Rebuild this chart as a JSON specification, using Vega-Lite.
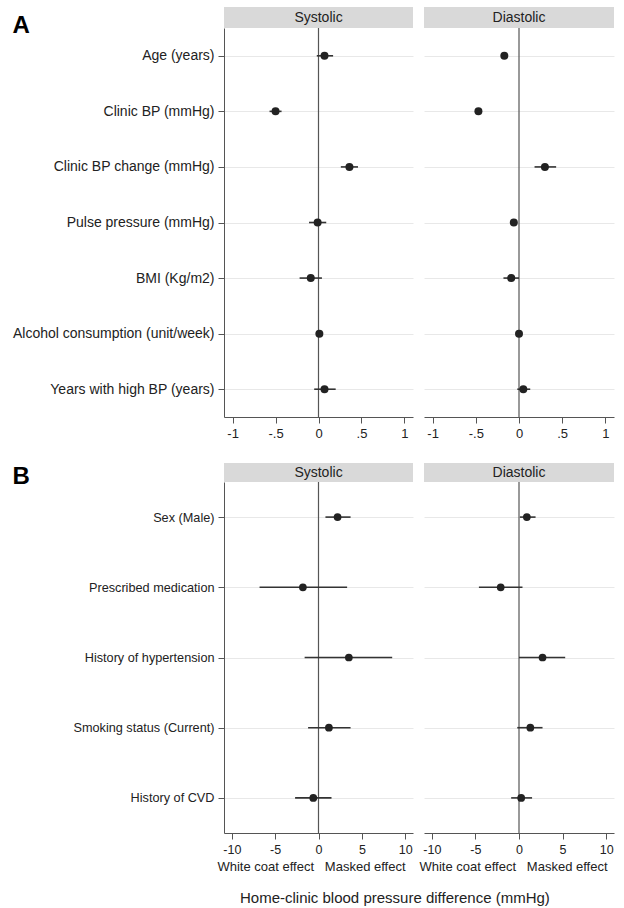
{
  "$schema": "https://vega.github.io/schema/vega-lite/v6.json",
  "padding": {"left": 12, "top": 7, "right": 4, "bottom": 0},
  "background": "white",
  "config": {
    "font": "Liberation Sans",
    "view": {"stroke": null},
    "axis": {"domainColor": "#555", "tickColor": "#555", "labelColor": "#222", "gridColor": "#e8e8e8", "labelFont": "Liberation Sans", "titleFont": "Liberation Sans", "titleColor": "#222"},
    "title": {"font": "Liberation Sans", "color": "#222"}
  },
  "datasets": {
    "contA": [
      {"var": "Age (years)", "bp": "Systolic", "est": 0.07, "lo": -0.02, "hi": 0.17},
      {"var": "Clinic BP (mmHg)", "bp": "Systolic", "est": -0.50, "lo": -0.57, "hi": -0.43},
      {"var": "Clinic BP change (mmHg)", "bp": "Systolic", "est": 0.36, "lo": 0.26, "hi": 0.46},
      {"var": "Pulse pressure (mmHg)", "bp": "Systolic", "est": -0.01, "lo": -0.11, "hi": 0.09},
      {"var": "BMI (Kg/m2)", "bp": "Systolic", "est": -0.09, "lo": -0.22, "hi": 0.04},
      {"var": "Alcohol consumption (unit/week)", "bp": "Systolic", "est": 0.01, "lo": -0.02, "hi": 0.04},
      {"var": "Years with high BP (years)", "bp": "Systolic", "est": 0.07, "lo": -0.05, "hi": 0.20},
      {"var": "Age (years)", "bp": "Diastolic", "est": -0.17, "lo": -0.19, "hi": -0.15},
      {"var": "Clinic BP (mmHg)", "bp": "Diastolic", "est": -0.47, "lo": -0.48, "hi": -0.46},
      {"var": "Clinic BP change (mmHg)", "bp": "Diastolic", "est": 0.30, "lo": 0.18, "hi": 0.43},
      {"var": "Pulse pressure (mmHg)", "bp": "Diastolic", "est": -0.06, "lo": -0.07, "hi": -0.05},
      {"var": "BMI (Kg/m2)", "bp": "Diastolic", "est": -0.09, "lo": -0.18, "hi": 0.0},
      {"var": "Alcohol consumption (unit/week)", "bp": "Diastolic", "est": 0.0, "lo": -0.01, "hi": 0.01},
      {"var": "Years with high BP (years)", "bp": "Diastolic", "est": 0.05, "lo": -0.02, "hi": 0.13}
    ],
    "binB": [
      {"var": "Sex (Male)", "bp": "Systolic", "est": 2.2, "lo": 0.8, "hi": 3.7},
      {"var": "Prescribed medication", "bp": "Systolic", "est": -1.8, "lo": -6.8, "hi": 3.3},
      {"var": "History of hypertension", "bp": "Systolic", "est": 3.5, "lo": -1.6, "hi": 8.5},
      {"var": "Smoking status (Current)", "bp": "Systolic", "est": 1.2, "lo": -1.2, "hi": 3.7},
      {"var": "History of CVD", "bp": "Systolic", "est": -0.6, "lo": -2.7, "hi": 1.5},
      {"var": "Sex (Male)", "bp": "Diastolic", "est": 0.9, "lo": 0.1, "hi": 1.9},
      {"var": "Prescribed medication", "bp": "Diastolic", "est": -2.1, "lo": -4.6, "hi": 0.4},
      {"var": "History of hypertension", "bp": "Diastolic", "est": 2.7, "lo": 0.0, "hi": 5.3},
      {"var": "Smoking status (Current)", "bp": "Diastolic", "est": 1.3, "lo": -0.2, "hi": 2.7},
      {"var": "History of CVD", "bp": "Diastolic", "est": 0.25, "lo": -0.9, "hi": 1.5}
    ]
  },
  "columns": 2,
  "bounds": "flush",
  "spacing": {"row": 0, "column": 11},
  "concat": [
    {
      "width": 189, "height": 21,
      "data": {"values": [{"h": "Systolic"}]},
      "layer": [
        {"mark": {"type": "rect", "fill": "#d9d9d9"}, "encoding": {}},
        {"mark": {"type": "text", "fontSize": 14, "color": "#222"}, "encoding": {"text": {"field": "h"}}}
      ]
    },
    {
      "width": 190, "height": 21,
      "data": {"values": [{"h": "Diastolic"}]},
      "layer": [
        {"mark": {"type": "rect", "fill": "#d9d9d9"}, "encoding": {}},
        {"mark": {"type": "text", "fontSize": 14, "color": "#222"}, "encoding": {"text": {"field": "h"}}}
      ]
    },
    {
      "width": 189, "height": 389,
      "layer": [
        {"data": {"values": [{}]}, "mark": {"type": "rule", "color": "#555", "strokeWidth": 1.2}, "encoding": {"x": {"datum": 0, "type": "quantitative", "scale": {"domain": [-1.1, 1.1], "nice": false, "zero": false}}}},
        {"data": {"name": "contA"}, "transform": [{"filter": "datum.bp == 'Systolic'"}], "mark": {"type": "rule", "color": "#333", "strokeWidth": 1.6},
         "encoding": {
           "y": {"field": "var", "type": "nominal", "sort": ["Age (years)", "Clinic BP (mmHg)", "Clinic BP change (mmHg)", "Pulse pressure (mmHg)", "BMI (Kg/m2)", "Alcohol consumption (unit/week)", "Years with high BP (years)"], "scale": {"type": "point", "padding": 0.5}, "axis": {"title": "A", "titleFontSize": 24, "titleFontWeight": "bold", "titleColor": "#000", "titleAngle": 0, "titleAlign": "left", "titleBaseline": "alphabetic", "titleX": -212, "titleY": 4, "labelFontSize": 14, "labelPadding": 4, "tickSize": 6, "grid": true, "labelLimit": 300}},
           "x": {"field": "lo", "type": "quantitative", "scale": {"domain": [-1.1, 1.1], "nice": false, "zero": false}, "axis": {"values": [-1, -0.5, 0, 0.5, 1], "labelExpr": "datum.value == 0 ? '0' : (datum.value < 0 ? '-' : '') + replace(toString(abs(datum.value)), '0.', '.')", "title": null, "labelFontSize": 13, "tickSize": 6, "grid": false, "labelPadding": 4}},
           "x2": {"field": "hi"}
         }},
        {"data": {"name": "contA"}, "transform": [{"filter": "datum.bp == 'Systolic'"}], "mark": {"type": "circle", "size": 64, "color": "#222", "opacity": 1},
         "encoding": {
           "y": {"field": "var", "type": "nominal", "sort": ["Age (years)", "Clinic BP (mmHg)", "Clinic BP change (mmHg)", "Pulse pressure (mmHg)", "BMI (Kg/m2)", "Alcohol consumption (unit/week)", "Years with high BP (years)"]},
           "x": {"field": "est", "type": "quantitative"}
         }}
      ]
    },
    {
      "width": 190, "height": 389,
      "layer": [
        {"data": {"values": [{}]}, "mark": {"type": "rule", "color": "#555", "strokeWidth": 1.2}, "encoding": {"x": {"datum": 0, "type": "quantitative", "scale": {"domain": [-1.1, 1.1], "nice": false, "zero": false}}}},
        {"data": {"name": "contA"}, "transform": [{"filter": "datum.bp == 'Diastolic'"}], "mark": {"type": "rule", "color": "#333", "strokeWidth": 1.6},
         "encoding": {
           "y": {"field": "var", "type": "nominal", "sort": ["Age (years)", "Clinic BP (mmHg)", "Clinic BP change (mmHg)", "Pulse pressure (mmHg)", "BMI (Kg/m2)", "Alcohol consumption (unit/week)", "Years with high BP (years)"], "scale": {"type": "point", "padding": 0.5}, "axis": {"title": null, "labels": false, "ticks": false, "domain": false, "grid": true}},
           "x": {"field": "lo", "type": "quantitative", "scale": {"domain": [-1.1, 1.1], "nice": false, "zero": false}, "axis": {"values": [-1, -0.5, 0, 0.5, 1], "labelExpr": "datum.value == 0 ? '0' : (datum.value < 0 ? '-' : '') + replace(toString(abs(datum.value)), '0.', '.')", "title": null, "labelFontSize": 13, "tickSize": 6, "grid": false, "labelPadding": 4}},
           "x2": {"field": "hi"}
         }},
        {"data": {"name": "contA"}, "transform": [{"filter": "datum.bp == 'Diastolic'"}], "mark": {"type": "circle", "size": 64, "color": "#222", "opacity": 1},
         "encoding": {
           "y": {"field": "var", "type": "nominal", "sort": ["Age (years)", "Clinic BP (mmHg)", "Clinic BP change (mmHg)", "Pulse pressure (mmHg)", "BMI (Kg/m2)", "Alcohol consumption (unit/week)", "Years with high BP (years)"]},
           "x": {"field": "est", "type": "quantitative"}
         }}
      ]
    },
    {"width": 189, "height": 46, "data": {"values": [{}]}, "mark": {"type": "text"}, "encoding": {"text": {"value": ""}}},
    {"width": 190, "height": 46, "data": {"values": [{}]}, "mark": {"type": "text"}, "encoding": {"text": {"value": ""}}},
    {
      "width": 189, "height": 19,
      "data": {"values": [{"h": "Systolic"}]},
      "layer": [
        {"mark": {"type": "rect", "fill": "#d9d9d9"}, "encoding": {}},
        {"mark": {"type": "text", "fontSize": 14, "color": "#222"}, "encoding": {"text": {"field": "h"}}}
      ]
    },
    {
      "width": 190, "height": 19,
      "data": {"values": [{"h": "Diastolic"}]},
      "layer": [
        {"mark": {"type": "rect", "fill": "#d9d9d9"}, "encoding": {}},
        {"mark": {"type": "text", "fontSize": 14, "color": "#222"}, "encoding": {"text": {"field": "h"}}}
      ]
    },
    {
      "width": 189, "height": 351,
      "title": {"text": "Home-clinic blood pressure difference (mmHg)", "orient": "bottom", "anchor": "start", "frame": "group", "fontSize": 15, "fontWeight": "normal", "dx": 16, "offset": 17},
      "layer": [
        {"data": {"values": [{}]}, "mark": {"type": "rule", "color": "#555", "strokeWidth": 1.2}, "encoding": {"x": {"datum": 0, "type": "quantitative", "scale": {"domain": [-10.9, 10.9], "nice": false, "zero": false}}}},
        {"data": {"name": "binB"}, "transform": [{"filter": "datum.bp == 'Systolic'"}], "mark": {"type": "rule", "color": "#333", "strokeWidth": 1.6},
         "encoding": {
           "y": {"field": "var", "type": "nominal", "sort": ["Sex (Male)", "Prescribed medication", "History of hypertension", "Smoking status (Current)", "History of CVD"], "scale": {"type": "point", "padding": 0.5}, "axis": {"title": "B", "titleFontSize": 24, "titleFontWeight": "bold", "titleColor": "#000", "titleAngle": 0, "titleAlign": "left", "titleBaseline": "alphabetic", "titleX": -212, "titleY": 1, "labelFontSize": 12.7, "labelPadding": 4, "tickSize": 6, "grid": true, "labelLimit": 300}},
           "x": {"field": "lo", "type": "quantitative", "scale": {"domain": [-10.9, 10.9], "nice": false, "zero": false}, "axis": {"values": [-10, -5, 0, 5, 10], "labelExpr": "(datum.value < 0 ? '-' : '') + toString(abs(datum.value))", "title": "White coat effect\u00a0\u00a0\u00a0Masked effect", "titleFontSize": 13, "titleFontWeight": "normal", "titlePadding": 5, "titleX": 87, "labelFontSize": 12.5, "tickSize": 6, "grid": false, "labelPadding": 4}},
           "x2": {"field": "hi"}
         }},
        {"data": {"name": "binB"}, "transform": [{"filter": "datum.bp == 'Systolic'"}], "mark": {"type": "circle", "size": 60, "color": "#222", "opacity": 1},
         "encoding": {
           "y": {"field": "var", "type": "nominal", "sort": ["Sex (Male)", "Prescribed medication", "History of hypertension", "Smoking status (Current)", "History of CVD"]},
           "x": {"field": "est", "type": "quantitative"}
         }}
      ]
    },
    {
      "width": 190, "height": 351,
      "layer": [
        {"data": {"values": [{}]}, "mark": {"type": "rule", "color": "#555", "strokeWidth": 1.2}, "encoding": {"x": {"datum": 0, "type": "quantitative", "scale": {"domain": [-10.9, 10.9], "nice": false, "zero": false}}}},
        {"data": {"name": "binB"}, "transform": [{"filter": "datum.bp == 'Diastolic'"}], "mark": {"type": "rule", "color": "#333", "strokeWidth": 1.6},
         "encoding": {
           "y": {"field": "var", "type": "nominal", "sort": ["Sex (Male)", "Prescribed medication", "History of hypertension", "Smoking status (Current)", "History of CVD"], "scale": {"type": "point", "padding": 0.5}, "axis": {"title": null, "labels": false, "ticks": false, "domain": false, "grid": true}},
           "x": {"field": "lo", "type": "quantitative", "scale": {"domain": [-10.9, 10.9], "nice": false, "zero": false}, "axis": {"values": [-10, -5, 0, 5, 10], "labelExpr": "(datum.value < 0 ? '-' : '') + toString(abs(datum.value))", "title": "White coat effect\u00a0\u00a0\u00a0Masked effect", "titleFontSize": 13, "titleFontWeight": "normal", "titlePadding": 5, "titleX": 89, "labelFontSize": 12.5, "tickSize": 6, "grid": false, "labelPadding": 4}},
           "x2": {"field": "hi"}
         }},
        {"data": {"name": "binB"}, "transform": [{"filter": "datum.bp == 'Diastolic'"}], "mark": {"type": "circle", "size": 60, "color": "#222", "opacity": 1},
         "encoding": {
           "y": {"field": "var", "type": "nominal", "sort": ["Sex (Male)", "Prescribed medication", "History of hypertension", "Smoking status (Current)", "History of CVD"]},
           "x": {"field": "est", "type": "quantitative"}
         }}
      ]
    }
  ]
}
